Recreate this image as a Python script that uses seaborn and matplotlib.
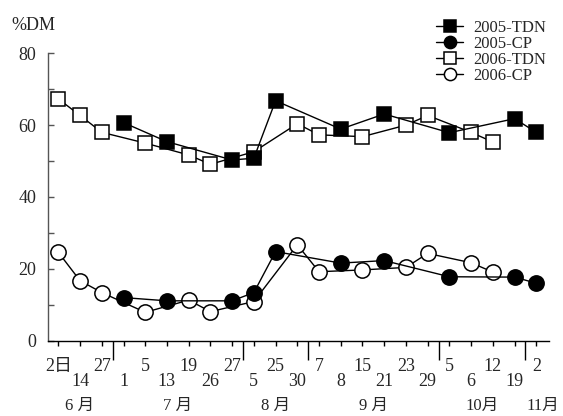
import pandas as pd
import matplotlib as mpl
import matplotlib.pyplot as plt
import seaborn as sns

mpl.use('agg')

# sampling dates (one slot per date, both years share the axis)
day_labels = ['2日', '14', '27', '1', '5', '13', '19', '26', '27', '5', '25', '30',
              '7', '8', '15', '21', '23', '29', '5', '6', '12', '19', '2']
month_labels = ['6 月', '7 月', '8 月', '9 月', '10月', '11月']
month_pos = [1, 5.5, 10, 14.5, 19.5, 22.3]
month_bounds = [2.5, 8.5, 11.5, 17.5, 21.5]

idx_2005 = [3, 5, 8, 9, 10, 13, 15, 18, 21, 22]
tdn_2005 = [60.7, 55.4, 50.3, 50.8, 66.8, 58.9, 63.1, 57.9, 61.8, 58.0]
cp_2005 = [12.0, 11.1, 11.1, 13.4, 24.8, 21.6, 22.3, 17.8, 17.7, 16.0]

idx_2006 = [0, 1, 2, 4, 6, 7, 9, 11, 12, 14, 16, 17, 19, 20]
tdn_2006 = [67.3, 62.7, 58.0, 55.0, 51.7, 49.1, 52.6, 60.4, 57.3, 56.8, 60.0, 62.7, 58.0, 55.3]
cp_2006 = [24.6, 16.7, 13.4, 7.9, 11.3, 8.1, 10.9, 26.7, 19.2, 19.7, 20.4, 24.3, 21.7, 19.1]

sns.set_theme(style='white')
plt.rcParams['font.family'] = ['Liberation Serif', 'Noto Sans CJK JP']
plt.rcParams['font.size'] = 13

fig, ax = plt.subplots(figsize=(5.63, 4.16), dpi=100)
fig.subplots_adjust(left=0.0847, right=0.9757, bottom=0.181, top=0.8719)

series = [
    ('2006-TDN', idx_2006, tdn_2006, 's', 'white', 10.5),
    ('2006-CP', idx_2006, cp_2006, 'o', 'white', 11),
    ('2005-TDN', idx_2005, tdn_2005, 's', 'black', 10.5),
    ('2005-CP', idx_2005, cp_2005, 'o', 'black', 11),
]
for name, xs, ys, mk, fc, ms in series:
    df = pd.DataFrame({'x': xs, 'y': ys})
    sns.lineplot(data=df, x='x', y='y', ax=ax, color='black', linewidth=1.0,
                 marker=mk, markersize=ms, markerfacecolor=fc,
                 markeredgecolor='black', markeredgewidth=1.1, label=name,
                 legend=False)

ax.set_xlim(-0.49, 22.6)
ax.set_ylim(0, 80)
ax.set_xlabel('')
ax.set_ylabel('')

ax.set_yticks([0, 20, 40, 60, 80])
ax.set_yticks([10, 30, 50, 70], minor=True)
ax.tick_params(axis='y', which='both', direction='in', length=4, width=1,
               color='#555555', left=True, pad=8, labelsize=13)

ax.set_xticks(month_bounds)
ax.set_xticks(range(len(day_labels)), minor=True)
ax.set_xticklabels([])
ax.tick_params(axis='x', which='major', direction='out', length=14, width=1,
               color='black', bottom=True)
ax.tick_params(axis='x', which='minor', direction='out', length=3.5, width=1,
               color='black', bottom=True)
ax.xaxis.get_major_ticks()[-1].tick1line.set_color('#888888')

for side in ['top', 'right']:
    ax.spines[side].set_visible(False)
ax.spines['left'].set_color('#555555')
ax.spines['bottom'].set_color('black')
ax.spines['left'].set_linewidth(1)
ax.spines['bottom'].set_linewidth(1)

trans = ax.get_xaxis_transform()
for i, lab in enumerate(day_labels):
    yy = -0.0905 if i % 2 == 0 else -0.1427
    ax.text(i, yy, lab, transform=trans, ha='center', va='center', fontsize=13)
for p, lab in zip(month_pos, month_labels):
    ax.text(p, -0.228, lab, transform=trans, ha='center', va='center', fontsize=12)

fig.text(0.02, 1 - 25 / 416, '%DM', ha='left', va='center', fontsize=13)

handles, labels = ax.get_legend_handles_labels()
order = ['2005-TDN', '2005-CP', '2006-TDN', '2006-CP']
hmap = dict(zip(labels, handles))
fig.legend([hmap[k] for k in order], order, loc='upper left',
           bbox_to_anchor=(428 / 563, 1 - 12 / 416), frameon=False,
           borderpad=0, labelspacing=0.0, handlelength=1.6, handletextpad=0.6,
           fontsize=12, markerscale=0.8)

fig.savefig('out.png', dpi=100)
